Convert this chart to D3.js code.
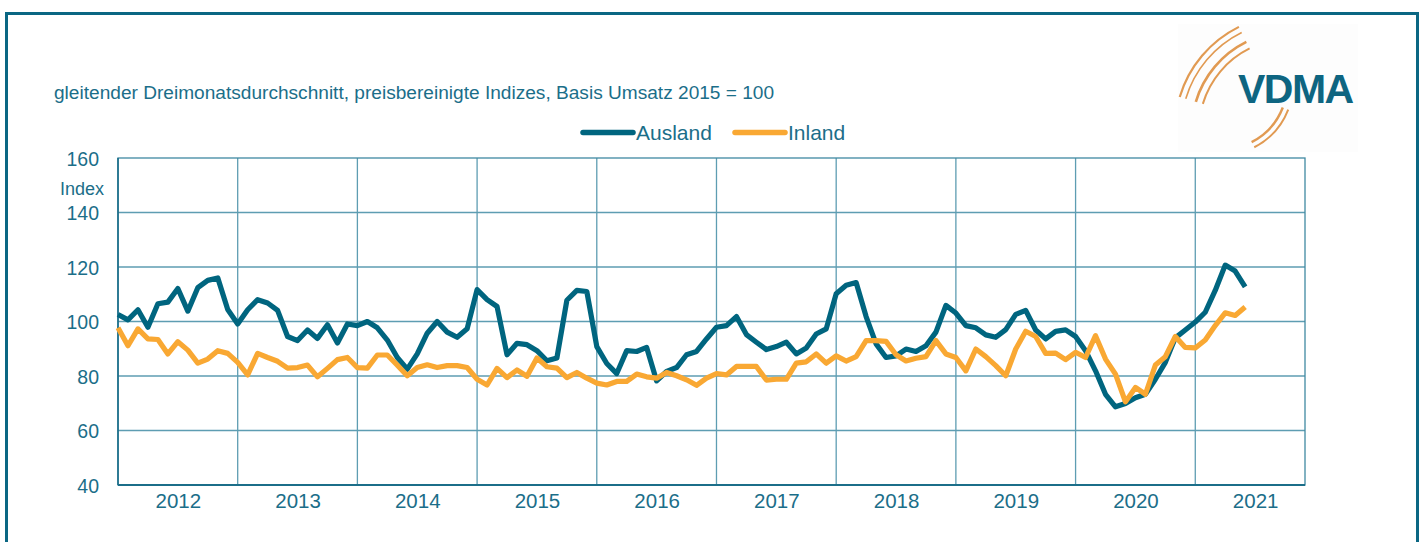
<!DOCTYPE html>
<html>
<head>
<meta charset="utf-8">
<script src="https://cdn.jsdelivr.net/npm/d3@7"></script>
<style>
  body { margin: 0; background: #fff; }
  svg { display: block; font-family: "Liberation Sans", Arial, sans-serif; }
</style>
</head>
<body>
<div id="chart"></div>
<script>
// monthly values, Jan 2012 .. Jun 2021
const years = ['2012', '2013', '2014', '2015', '2016', '2017', '2018', '2019', '2020', '2021'];
const yTicks = [40, 60, 80, 100, 120, 140, 160];

const ausland = [
  102.6, 100.6, 104.3, 97.9, 106.5, 107.1, 112.1, 103.8, 112.4, 115.1, 116.0, 104.4,
  99.1, 104.3, 108.0, 106.8, 104.1, 94.5, 93.0, 96.9, 93.8, 98.8, 92.1, 99.1,
  98.5, 100.0, 97.7, 93.2, 86.8, 82.5, 88.1, 95.7, 100.0, 96.1, 94.2, 97.3,
  111.7, 108.0, 105.5, 87.8, 92.0, 91.5, 89.3, 85.6, 86.6, 107.8, 111.4, 111.0,
  90.8, 84.6, 80.9, 89.3, 89.0, 90.5, 78.2, 81.7, 83.1, 87.8, 89.0, 93.6,
  97.9, 98.5, 101.8, 95.2, 92.4, 89.7, 90.8, 92.4, 88.1, 90.3, 95.4, 97.3,
  110.2, 113.3, 114.3, 101.8, 91.8, 86.8, 87.4, 89.9, 89.0, 91.1, 96.1, 105.9,
  103.1, 98.5, 97.7, 95.1, 94.2, 97.0, 102.6, 104.1, 96.9, 93.6, 96.4, 96.9,
  94.5, 89.3, 81.9, 73.3, 68.7, 69.9, 72.0, 73.3, 78.8, 85.0, 94.0, 96.9,
  99.8, 103.4, 111.4, 120.7, 118.5, 112.7
];

const inland = [
  97.7, 91.1, 97.3, 93.6, 93.4, 88.1, 92.6, 89.5, 84.7, 86.2, 89.3, 88.3,
  85.0, 80.4, 88.3, 86.8, 85.4, 82.9, 83.1, 84.0, 79.7, 82.8, 86.0, 86.8,
  83.1, 82.9, 87.7, 87.7, 84.0, 80.1, 83.1, 84.1, 83.1, 83.8, 83.8, 83.1,
  78.8, 76.7, 82.8, 79.4, 82.2, 79.9, 86.6, 83.4, 82.9, 79.4, 81.3, 79.2,
  77.4, 76.7, 78.0, 78.0, 80.7, 79.7, 79.2, 81.3, 80.1, 78.6, 76.6, 79.2,
  80.9, 80.4, 83.5, 83.5, 83.5, 78.5, 78.8, 78.8, 84.7, 85.2, 88.1, 84.7,
  87.4, 85.5, 87.1, 93.0, 93.0, 92.7, 87.8, 85.5, 86.5, 87.1, 93.0, 88.1,
  86.8, 81.9, 89.9, 87.1, 83.8, 80.1, 89.9, 96.4, 94.5, 88.3, 88.4, 86.0,
  88.7, 86.8, 94.8, 86.2, 80.7, 70.5, 75.8, 73.3, 84.0, 87.1, 94.5, 90.5,
  90.3, 93.2, 98.5, 103.2, 102.2, 105.3
];

const series = [
  { name: 'Ausland', values: ausland, color: '#00657f' },
  { name: 'Inland', values: inland, color: '#f9a833' }
];

const W = 1424, H = 542;
const TEXT = '#1b6e89';
const GRID = '#5e9db2';

const svg = d3.select('#chart').append('svg')
  .attr('width', W)
  .attr('height', H);

// outer frame
svg.append('rect')
  .attr('x', 6.5).attr('y', 13.5)
  .attr('width', 1411).attr('height', 560)
  .attr('fill', 'none')
  .attr('stroke', '#0b6783')
  .attr('stroke-width', 3);

const x = d3.scaleLinear().domain([0, 119]).range([118, 1305]);
const y = d3.scaleLinear().domain([40, 160]).range([485, 158]);

// subtitle
svg.append('text')
  .attr('x', 54).attr('y', 99)
  .attr('fill', TEXT)
  .style('font-size', '19.1px')
  .text('gleitender Dreimonatsdurchschnitt, preisbereinigte Indizes, Basis Umsatz 2015 = 100');

// legend
const legend = svg.append('g');
const legendItems = [
  { s: series[0], x0: 583 },
  { s: series[1], x0: 735 }
];
legendItems.forEach(item => {
  legend.append('line')
    .attr('x1', item.x0).attr('x2', item.x0 + 50)
    .attr('y1', 132.5).attr('y2', 132.5)
    .attr('stroke', item.s.color)
    .attr('stroke-width', 5.5)
    .attr('stroke-linecap', 'round');
  legend.append('text')
    .attr('x', item.x0 + 53).attr('y', 140)
    .attr('fill', TEXT)
    .style('font-size', '21px')
    .text(item.s.name);
});

// grid
const grid = svg.append('g');
grid.selectAll('.hgrid')
  .data(yTicks.filter(v => v > 40 && v < 160))
  .join('line')
  .attr('x1', x(0)).attr('x2', x(119))
  .attr('y1', d => y(d)).attr('y2', d => y(d))
  .attr('stroke', GRID)
  .attr('stroke-width', 1.3);

grid.selectAll('.vgrid')
  .data(d3.range(1, years.length).map(i => i * 12))
  .join('line')
  .attr('x1', d => x(d)).attr('x2', d => x(d))
  .attr('y1', y(160)).attr('y2', y(40))
  .attr('stroke', GRID)
  .attr('stroke-width', 1.3);

// plot frame
svg.append('rect')
  .attr('x', x(0)).attr('y', y(160))
  .attr('width', x(119) - x(0)).attr('height', y(40) - y(160))
  .attr('fill', 'none')
  .attr('stroke', '#3f89a2')
  .attr('stroke-width', 1.3);

svg.append('line')
  .attr('x1', x(0)).attr('x2', x(0))
  .attr('y1', y(160)).attr('y2', y(40))
  .attr('stroke', '#1b6e89').attr('stroke-width', 1.6);
svg.append('line')
  .attr('x1', x(0)).attr('x2', x(119))
  .attr('y1', y(40)).attr('y2', y(40))
  .attr('stroke', '#1b6e89').attr('stroke-width', 2);

// y axis labels
const yAxis = svg.append('g')
  .attr('transform', `translate(${x(0) - 19},0)`)
  .call(d3.axisLeft(y).tickValues(yTicks).tickSize(0).tickPadding(0));
yAxis.select('.domain').remove();
yAxis.selectAll('text')
  .attr('fill', TEXT)
  .attr('dy', '0.36em')
  .style('font-size', '19.5px')
  .style('font-family', '"Liberation Sans", Arial, sans-serif');

svg.append('text')
  .attr('x', 104).attr('y', 195)
  .attr('text-anchor', 'end')
  .attr('fill', TEXT)
  .style('font-size', '18px')
  .text('Index');

// x axis year labels (centred in each year band)
const xAxis = svg.append('g')
  .attr('transform', `translate(0,${y(40)})`)
  .call(d3.axisBottom(x)
    .tickValues(years.map((yr, i) => i * 12 + 6))
    .tickFormat((d, i) => years[i])
    .tickSize(0)
    .tickPadding(8));
xAxis.select('.domain').remove();
xAxis.selectAll('text')
  .attr('fill', TEXT)
  .style('font-size', '20.5px')
  .style('font-family', '"Liberation Sans", Arial, sans-serif');

// lines
const line = d3.line()
  .x((d, i) => x(i))
  .y(d => y(d));

svg.append('g')
  .selectAll('path')
  .data(series)
  .join('path')
  .attr('d', d => line(d.values))
  .attr('fill', 'none')
  .attr('stroke', d => d.color)
  .attr('stroke-width', 5.2)
  .attr('stroke-linejoin', 'round')
  .attr('stroke-linecap', 'butt');

// VDMA logo
const logo = svg.append('g');
logo.append('rect')
  .attr('x', 1178).attr('y', 24)
  .attr('width', 180).attr('height', 128)
  .attr('fill', '#fdfdfd');

const arc = d3.arc();
const upperArcs = [
  { r: 114, w: 2.2 }, { r: 108, w: 1.6 }, { r: 97, w: 2.6 }, { r: 90, w: 2 }
];
upperArcs.forEach(a => {
  logo.append('path')
    .attr('transform', 'translate(1290,130)')
    .attr('d', arc({ innerRadius: a.r, outerRadius: a.r + a.w, startAngle: -1.28, endAngle: -0.46 }))
    .attr('fill', '#de8f3f')
    .attr('opacity', 0.9);
});
const lowerArcs = [{ r: 64, w: 2.4 }, { r: 70, w: 2 }];
lowerArcs.forEach(a => {
  logo.append('path')
    .attr('transform', 'translate(1222,84)')
    .attr('d', arc({ innerRadius: a.r, outerRadius: a.r + a.w, startAngle: 1.94, endAngle: 2.67 }))
    .attr('fill', '#de8f3f')
    .attr('opacity', 0.9);
});
logo.append('text')
  .attr('x', 1238).attr('y', 103)
  .attr('fill', '#0e6581')
  .style('font-size', '41px')
  .style('font-weight', 'bold')
  .style('letter-spacing', '-1.5px')
  .text('VDMA');
</script>
</body>
</html>
